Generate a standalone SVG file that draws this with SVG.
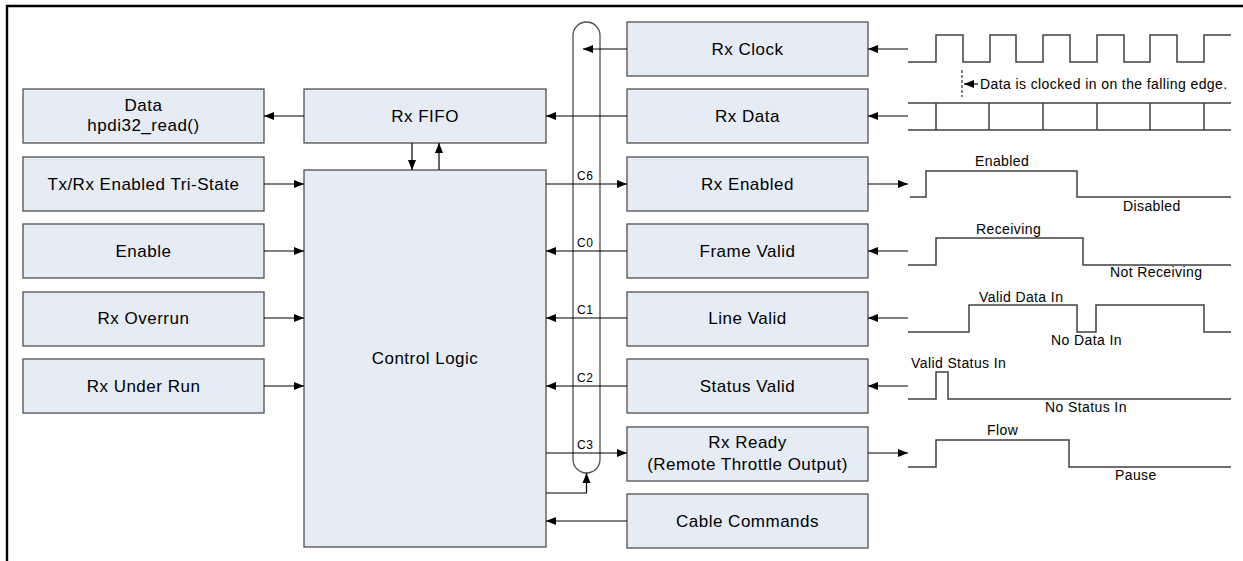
<svg xmlns="http://www.w3.org/2000/svg" width="1243" height="561" viewBox="0 0 1243 561">
  <style>
    .box { fill: #e5ecf6; stroke: #505050; stroke-width: 1.3; }
    .lbl { font-family: "Liberation Sans", Arial, sans-serif; font-size: 17px; letter-spacing: 0.5px; fill: #000; text-anchor: middle; }
    .sig { font-family: "Liberation Sans", Arial, sans-serif; font-size: 12px; letter-spacing: 0.5px; fill: #000; }
    .wl { font-family: "Liberation Sans", Arial, sans-serif; font-size: 14px; letter-spacing: 0.4px; fill: #000; }
    .ln { fill: none; stroke: #000; stroke-width: 1.2; }
    .bus { fill: none; stroke: #505050; stroke-width: 1.3; }
    .wave { fill: none; stroke: #404040; stroke-width: 1.5; }
  </style>
  <defs>
    <marker id="ah" viewBox="0 0 10 10" refX="10" refY="5" markerWidth="10" markerHeight="10" markerUnits="userSpaceOnUse" orient="auto">
      <path d="M0,1 L10,5 L0,9 Z" fill="#000"/>
    </marker>
  </defs>

  <rect width="1243" height="561" fill="#fff"/>
  <!-- outer frame -->
  <path d="M7,561 V6 H1243" fill="none" stroke="#000" stroke-width="2.4"/>

  <!-- bus -->
  <rect id="bus" class="bus" x="573" y="22" width="27" height="451" rx="13.5" ry="13.5"/>

  <!-- left column -->
  <g id="data-read"><rect class="box" x="23" y="89" width="241" height="54"/>
    <text class="lbl" x="143.5" y="111">Data</text><text class="lbl" x="143.5" y="131">hpdi32_read()</text></g>
  <g id="tx-rx-tristate"><rect class="box" x="23" y="157" width="241" height="54"/>
    <text class="lbl" x="143.5" y="190">Tx/Rx Enabled Tri-State</text></g>
  <g id="enable"><rect class="box" x="23" y="224" width="241" height="54"/>
    <text class="lbl" x="143.5" y="257">Enable</text></g>
  <g id="rx-overrun"><rect class="box" x="23" y="292" width="241" height="54"/>
    <text class="lbl" x="143.5" y="324">Rx Overrun</text></g>
  <g id="rx-underrun"><rect class="box" x="23" y="359" width="241" height="54"/>
    <text class="lbl" x="143.5" y="392">Rx Under Run</text></g>

  <!-- middle column -->
  <g id="rx-fifo"><rect class="box" x="304" y="89" width="242" height="54"/>
    <text class="lbl" x="425" y="122">Rx FIFO</text></g>
  <g id="control-logic"><rect class="box" x="304" y="170" width="242" height="377"/>
    <text class="lbl" x="425" y="364">Control Logic</text></g>

  <!-- right column -->
  <g id="rx-clock"><rect class="box" x="627" y="22" width="241" height="54"/>
    <text class="lbl" x="747.5" y="55">Rx Clock</text></g>
  <g id="rx-data"><rect class="box" x="627" y="89" width="241" height="54"/>
    <text class="lbl" x="747.5" y="122">Rx Data</text></g>
  <g id="rx-enabled"><rect class="box" x="627" y="157" width="241" height="54"/>
    <text class="lbl" x="747.5" y="190">Rx Enabled</text></g>
  <g id="frame-valid"><rect class="box" x="627" y="224" width="241" height="54"/>
    <text class="lbl" x="747.5" y="257">Frame Valid</text></g>
  <g id="line-valid"><rect class="box" x="627" y="292" width="241" height="54"/>
    <text class="lbl" x="747.5" y="324">Line Valid</text></g>
  <g id="status-valid"><rect class="box" x="627" y="359" width="241" height="54"/>
    <text class="lbl" x="747.5" y="392">Status Valid</text></g>
  <g id="rx-ready"><rect class="box" x="627" y="427" width="241" height="54"/>
    <text class="lbl" x="747.5" y="448">Rx Ready</text><text class="lbl" x="747.5" y="470">(Remote Throttle Output)</text></g>
  <g id="cable-commands"><rect class="box" x="627" y="494" width="241" height="54"/>
    <text class="lbl" x="747.5" y="527">Cable Commands</text></g>

  <!-- connectors -->
  <g id="connectors">
    <line class="ln" x1="627" y1="49" x2="583" y2="49" marker-end="url(#ah)"/>
    <line class="ln" x1="627" y1="116" x2="546" y2="116" marker-end="url(#ah)"/>
    <line class="ln" x1="304" y1="116" x2="264" y2="116" marker-end="url(#ah)"/>
    <line class="ln" x1="412" y1="143" x2="412" y2="170" marker-end="url(#ah)"/>
    <line class="ln" x1="439" y1="170" x2="439" y2="143" marker-end="url(#ah)"/>
    <line class="ln" x1="264" y1="184" x2="304" y2="184" marker-end="url(#ah)"/>
    <line class="ln" x1="264" y1="251" x2="304" y2="251" marker-end="url(#ah)"/>
    <line class="ln" x1="264" y1="318" x2="304" y2="318" marker-end="url(#ah)"/>
    <line class="ln" x1="264" y1="386" x2="304" y2="386" marker-end="url(#ah)"/>
    <line class="ln" x1="546" y1="184" x2="627" y2="184" marker-end="url(#ah)"/>
    <line class="ln" x1="627" y1="251" x2="546" y2="251" marker-end="url(#ah)"/>
    <line class="ln" x1="627" y1="318" x2="546" y2="318" marker-end="url(#ah)"/>
    <line class="ln" x1="627" y1="386" x2="546" y2="386" marker-end="url(#ah)"/>
    <line class="ln" x1="546" y1="453" x2="627" y2="453" marker-end="url(#ah)"/>
    <polyline class="ln" points="546,493 586.5,493 586.5,473" marker-end="url(#ah)"/>
    <line class="ln" x1="627" y1="521" x2="546" y2="521" marker-end="url(#ah)"/>
    <text class="sig" x="577" y="180">C6</text>
    <text class="sig" x="577" y="247">C0</text>
    <text class="sig" x="577" y="314">C1</text>
    <text class="sig" x="577" y="382">C2</text>
    <text class="sig" x="577" y="449">C3</text>

    <!-- waveform links -->
    <line class="ln" x1="908" y1="49" x2="868" y2="49" marker-end="url(#ah)"/>
    <line class="ln" x1="908" y1="116" x2="868" y2="116" marker-end="url(#ah)"/>
    <line class="ln" x1="868" y1="184" x2="908" y2="184" marker-end="url(#ah)"/>
    <line class="ln" x1="908" y1="251" x2="868" y2="251" marker-end="url(#ah)"/>
    <line class="ln" x1="908" y1="318" x2="868" y2="318" marker-end="url(#ah)"/>
    <line class="ln" x1="908" y1="386" x2="868" y2="386" marker-end="url(#ah)"/>
    <line class="ln" x1="868" y1="453" x2="908" y2="453" marker-end="url(#ah)"/>
  </g>

  <!-- timing waveforms -->
  <g id="waveforms">
    <path class="wave" d="M908,62 H936 V35 H963 V62 H990 V35 H1016 V62 H1043 V35 H1070 V62 H1097 V35 H1124 V62 H1150 V35 H1177 V62 H1204 V35 H1231"/>
    <line x1="962" y1="70" x2="962" y2="97" stroke="#000" stroke-width="1" stroke-dasharray="3,2"/>
    <line class="ln" x1="978" y1="84" x2="964" y2="84" marker-end="url(#ah)"/>
    <text class="wl" x="980" y="89">Data is clocked in on the falling edge.</text>

    <path class="wave" d="M908,103 H1231 M908,130 H1231 M936,103 V130 M989,103 V130 M1043,103 V130 M1097,103 V130 M1150,103 V130 M1204,103 V130"/>

    <path class="wave" d="M910,197 H926 V171 H1077 V197 H1231"/>
    <text class="wl" x="975" y="166">Enabled</text>
    <text class="wl" x="1123" y="211">Disabled</text>

    <path class="wave" d="M908,265 H936 V238 H1083 V265 H1231"/>
    <text class="wl" x="976" y="234">Receiving</text>
    <text class="wl" x="1110" y="277">Not Receiving</text>

    <path class="wave" d="M908,332 H969 V305 H1077 V332 H1096 V305 H1204 V332 H1231"/>
    <text class="wl" x="979" y="302">Valid Data In</text>
    <text class="wl" x="1051" y="345">No Data In</text>

    <path class="wave" d="M908,399 H936 V372 H948 V399 H1231"/>
    <text class="wl" x="911" y="368">Valid Status In</text>
    <text class="wl" x="1045" y="412">No Status In</text>

    <path class="wave" d="M908,467 H936 V440 H1069 V467 H1231"/>
    <text class="wl" x="987" y="435">Flow</text>
    <text class="wl" x="1115" y="480">Pause</text>
  </g>
</svg>
